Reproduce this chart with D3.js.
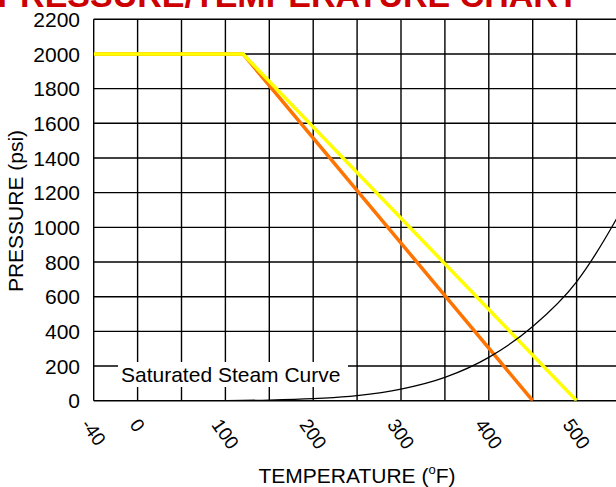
<!DOCTYPE html>
<html>
<head>
<meta charset="utf-8">
<script src="https://cdn.jsdelivr.net/npm/d3@7"></script>
<style>
  body { margin: 0; background: #fff; }
  text { font-family: Arial, "Liberation Sans", sans-serif; }
</style>
</head>
<body>
<svg id="chart" width="616" height="487"></svg>
<script>
// Tick labels
const tempTicks = [-40, 0, 100, 200, 300, 400, 500, 600];
const tempGrid = [-40, 0, 50, 100, 150, 200, 250, 300, 350, 400, 450, 500, 550, 600];
const pressTicks = [0, 200, 400, 600, 800, 1000, 1200, 1400, 1600, 1800, 2000, 2200];

// Pressure rating lines (temperature F, pressure psi)
const ratingOrangeT = [-40, 120, 450];
const ratingOrangeP = [2000, 2000, 0];
const ratingYellowT = [-40, 120, 500];
const ratingYellowP = [2000, 2000, 0];

// Saturated steam curve (psia)
const steamT = [0, 32, 50, 100, 150, 200, 212, 250, 300, 350, 400, 450, 500, 550, 600];
const steamP = [0.02, 0.09, 0.18, 0.95, 3.7, 11.5, 14.7, 29.8, 67, 134.6, 250, 428, 686, 1090, 1600];

const svg = d3.select("#chart");
const plotL = 93.7, plotT = 19.3, plotB = 400.7, col = 43.9;
const plotR = plotL + col * 13;

// -40 sits one column left of 0, then 50 F per column
const x = d3.scaleLinear()
  .domain([-40, 0, 600])
  .range([plotL, plotL + col, plotL + col * 13]);
const y = d3.scaleLinear().domain([0, 2200]).range([plotB, plotT]);

svg.append("rect").attr("width", 616).attr("height", 487).attr("fill", "#fff");

// title (cut off at the top in the reference)
svg.append("text")
  .attr("x", 288).attr("y", 7)
  .attr("text-anchor", "middle")
  .attr("font-size", 34).attr("font-weight", "bold")
  .attr("fill", "#cc0000")
  .text("PRESSURE/TEMPERATURE CHART");

svg.append("clipPath").attr("id", "plotclip")
  .append("rect").attr("x", plotL).attr("y", plotT)
  .attr("width", plotR - plotL).attr("height", plotB - plotT);

// grid
const grid = svg.append("g").attr("stroke", "#000").attr("stroke-width", 1.4);
grid.selectAll(".vg").data(tempGrid).enter().append("line")
  .attr("x1", d => x(d)).attr("x2", d => x(d))
  .attr("y1", plotT).attr("y2", plotB);
grid.selectAll(".hg").data(pressTicks).enter().append("line")
  .attr("x1", plotL).attr("x2", plotR)
  .attr("y1", d => y(d)).attr("y2", d => y(d));

const plot = svg.append("g").attr("clip-path", "url(#plotclip)");

const line = d3.line().x(d => x(d[0])).y(d => y(d[1]));

plot.append("path")
  .datum(d3.zip(ratingOrangeT, ratingOrangeP))
  .attr("d", line)
  .attr("fill", "none").attr("stroke", "#ff7400").attr("stroke-width", 3.5);

plot.append("path")
  .datum(d3.zip(ratingYellowT, ratingYellowP))
  .attr("d", line)
  .attr("fill", "none").attr("stroke", "#ffff00").attr("stroke-width", 3.5);

plot.append("path")
  .datum(d3.zip(steamT, steamP))
  .attr("d", line.curve(d3.curveMonotoneX))
  .attr("fill", "none").attr("stroke", "#000").attr("stroke-width", 1.3);

// steam curve label with white box
svg.append("rect")
  .attr("x", 118).attr("y", 362).attr("width", 230).attr("height", 25)
  .attr("fill", "#fff");
svg.append("text")
  .attr("x", 121).attr("y", 382)
  .attr("font-size", 21)
  .text("Saturated Steam Curve");

// y tick labels
svg.selectAll(".ylab").data(pressTicks).enter().append("text")
  .attr("x", 80).attr("y", d => y(d))
  .attr("dy", "0.36em")
  .attr("text-anchor", "end")
  .attr("font-size", 21)
  .text(d => d);

// x tick labels, rotated
const ang = 55;
svg.selectAll(".xlab").data(tempTicks).enter().append("text")
  .attr("font-size", 19)
  .attr("text-anchor", "middle")
  .attr("dy", "0.35em")
  .text(d => d)
  .attr("transform", function(d) {
    const len = this.getComputedTextLength();
    const r = ang * Math.PI / 180;
    const h = len * Math.sin(r) + 13.5 * Math.cos(r);
    return `translate(${x(d)},${417 + h / 2}) rotate(${ang})`;
  });

// axis titles
svg.append("text")
  .attr("transform", "translate(23,211) rotate(-90)")
  .attr("text-anchor", "middle")
  .attr("font-size", 21)
  .text("PRESSURE (psi)");

const xt = svg.append("text")
  .attr("x", 357).attr("y", 483)
  .attr("text-anchor", "middle")
  .attr("font-size", 21);
xt.append("tspan").text("TEMPERATURE (");
xt.append("tspan").attr("font-size", 13).attr("dy", -9).text("o");
xt.append("tspan").attr("dy", 9).text("F)");
</script>
</body>
</html>
